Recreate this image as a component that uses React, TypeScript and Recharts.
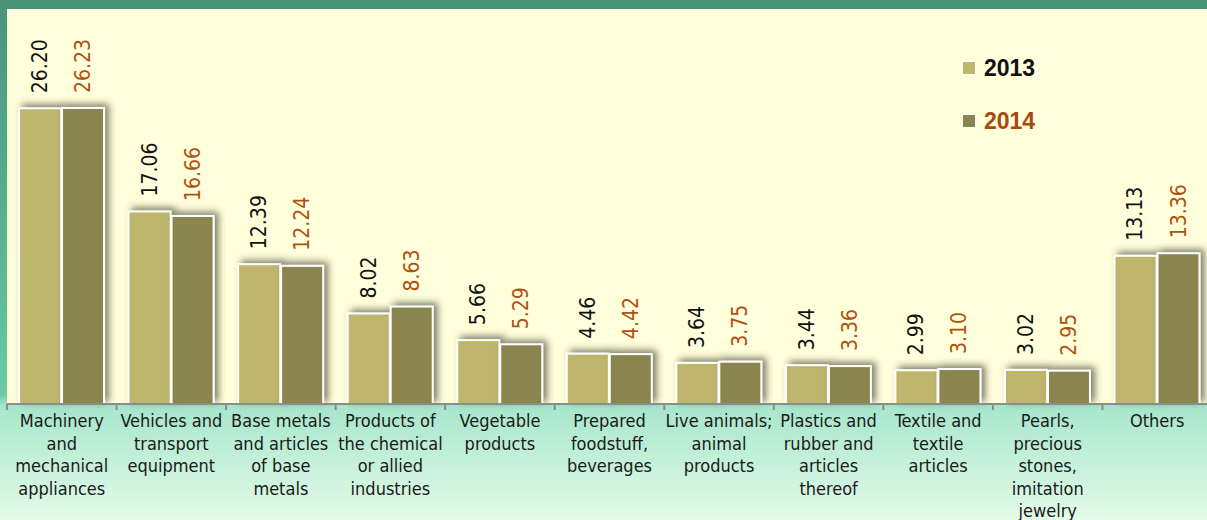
import { BarChart, Bar, XAxis, YAxis, CartesianGrid, Legend, LabelList } from 'recharts';

const categories = [
  'Machinery\nand\nmechanical\nappliances',
  'Vehicles and\ntransport\nequipment',
  'Base metals\nand articles\nof base\nmetals',
  'Products of\nthe chemical\nor allied\nindustries',
  'Vegetable\nproducts',
  'Prepared\nfoodstuff,\nbeverages',
  'Live animals;\nanimal\nproducts',
  'Plastics and\nrubber and\narticles\nthereof',
  'Textile and\ntextile\narticles',
  'Pearls,\nprecious\nstones,\nimitation\njewelry',
  'Others',
];
const values2013 = [26.2, 17.06, 12.39, 8.02, 5.66, 4.46, 3.64, 3.44, 2.99, 3.02, 13.13];
const values2014 = [26.23, 16.66, 12.24, 8.63, 5.29, 4.42, 3.75, 3.36, 3.1, 2.95, 13.36];

const data = categories.map((name, i) => ({
  name,
  y2013: values2013[i],
  y2014: values2014[i],
}));

const CHART_W = 1212;
const CHART_H = 520;
const LEFT = 7;
const BAND = (CHART_W - LEFT) / categories.length;
const FONT = '"DejaVu Sans Condensed", "DejaVu Sans", sans-serif';

const CategoryTick = (props: any) => {
  const { x, y, payload } = props;
  const lines: string[] = String(payload.value).split('\n');
  return (
    <g>
      <line x1={x - BAND / 2} x2={x - BAND / 2} y1={y} y2={y + 6} stroke="#8c8c8c" strokeWidth={2} />
      <text x={x} y={y} textAnchor="middle" fontFamily={FONT} fontSize={18} fill="#1a1a1a">
        {lines.map((l, i) => (
          <tspan key={i} x={x} y={y + 23 + i * 22.6}>
            {l}
          </tspan>
        ))}
      </text>
    </g>
  );
};

const makeLabel = (color: string) => (props: any) => {
  const { x, y, width, value } = props;
  const cx = x + width / 2;
  const cy = y - 15;
  return (
    <text
      x={cx}
      y={cy}
      transform={`rotate(-90, ${cx}, ${cy})`}
      textAnchor="start"
      dominantBaseline="central"
      fontFamily={FONT}
      fontSize={21}
      fill={color}
    >
      {Number(value).toFixed(2)}
    </text>
  );
};

const ShadowBar = (props: any) => {
  const { x, y, width, height, fill } = props;
  return (
    <rect
      x={x}
      y={y}
      width={width}
      height={height}
      fill={fill}
      stroke="#ffffff"
      strokeWidth={2}
      filter="url(#barShadow)"
    />
  );
};

const LegendBox = () => (
  <div style={{ fontFamily: '"Liberation Sans", Arial, sans-serif', fontWeight: 700, fontSize: 23 }}>
    {[
      { label: '2013', box: '#bdb66c', color: '#111111' },
      { label: '2014', box: '#8a8450', color: '#a8480f' },
    ].map((it, i) => (
      <div key={it.label} style={{ display: 'flex', alignItems: 'center', height: 26, marginTop: i ? 27 : 0 }}>
        <span
          style={{
            width: 12,
            height: 12,
            background: it.box,
            border: '1px solid #ffffff',
            marginRight: 8,
            display: 'inline-block',
          }}
        />
        <span style={{ color: it.color }}>{it.label}</span>
      </div>
    ))}
  </div>
);

export default function App() {
  return (
    <div
      style={{
        position: 'absolute',
        left: 0,
        top: 0,
        width: 1207,
        height: 520,
        overflow: 'hidden',
        background:
          'linear-gradient(to bottom, #4a9479 0%, #5cb691 50%, #6ccaa4 76%, #a6e6cc 78%, #e4fbe8 100%)',
      }}
    >
      <BarChart
        width={CHART_W}
        height={CHART_H}
        data={data}
        margin={{ top: 9, right: 0, left: LEFT, bottom: 0 }}
        barCategoryGap="11%"
        barGap={1}
      >
        <defs>
          <filter id="barShadow" x="-30%" y="-30%" width="160%" height="160%">
            <feDropShadow dx={4} dy={-3} stdDeviation={3.5} floodColor="#3a3a2a" floodOpacity={0.65} />
          </filter>
        </defs>
        <CartesianGrid fill="#ffffdc" stroke="none" horizontal={false} vertical={false} />
        <XAxis
          dataKey="name"
          interval={0}
          height={116}
          tickLine={false}
          tickSize={0}
          tickMargin={0}
          axisLine={{ stroke: '#8c8c8c', strokeWidth: 2 }}
          tick={<CategoryTick />}
        />
        <YAxis hide domain={[0, 35]} />
        <Legend
          layout="vertical"
          align="center"
          verticalAlign="middle"
          content={<LegendBox />}
          wrapperStyle={{ position: 'absolute', top: 55, left: 962, width: 120 }}
        />
        <Bar dataKey="y2013" name="2013" fill="#bdb66c" shape={<ShadowBar />} isAnimationActive={false}>
          <LabelList dataKey="y2013" content={makeLabel('#111111')} />
        </Bar>
        <Bar dataKey="y2014" name="2014" fill="#8a8450" shape={<ShadowBar />} isAnimationActive={false}>
          <LabelList dataKey="y2014" content={makeLabel('#b0500f')} />
        </Bar>
      </BarChart>
    </div>
  );
}
